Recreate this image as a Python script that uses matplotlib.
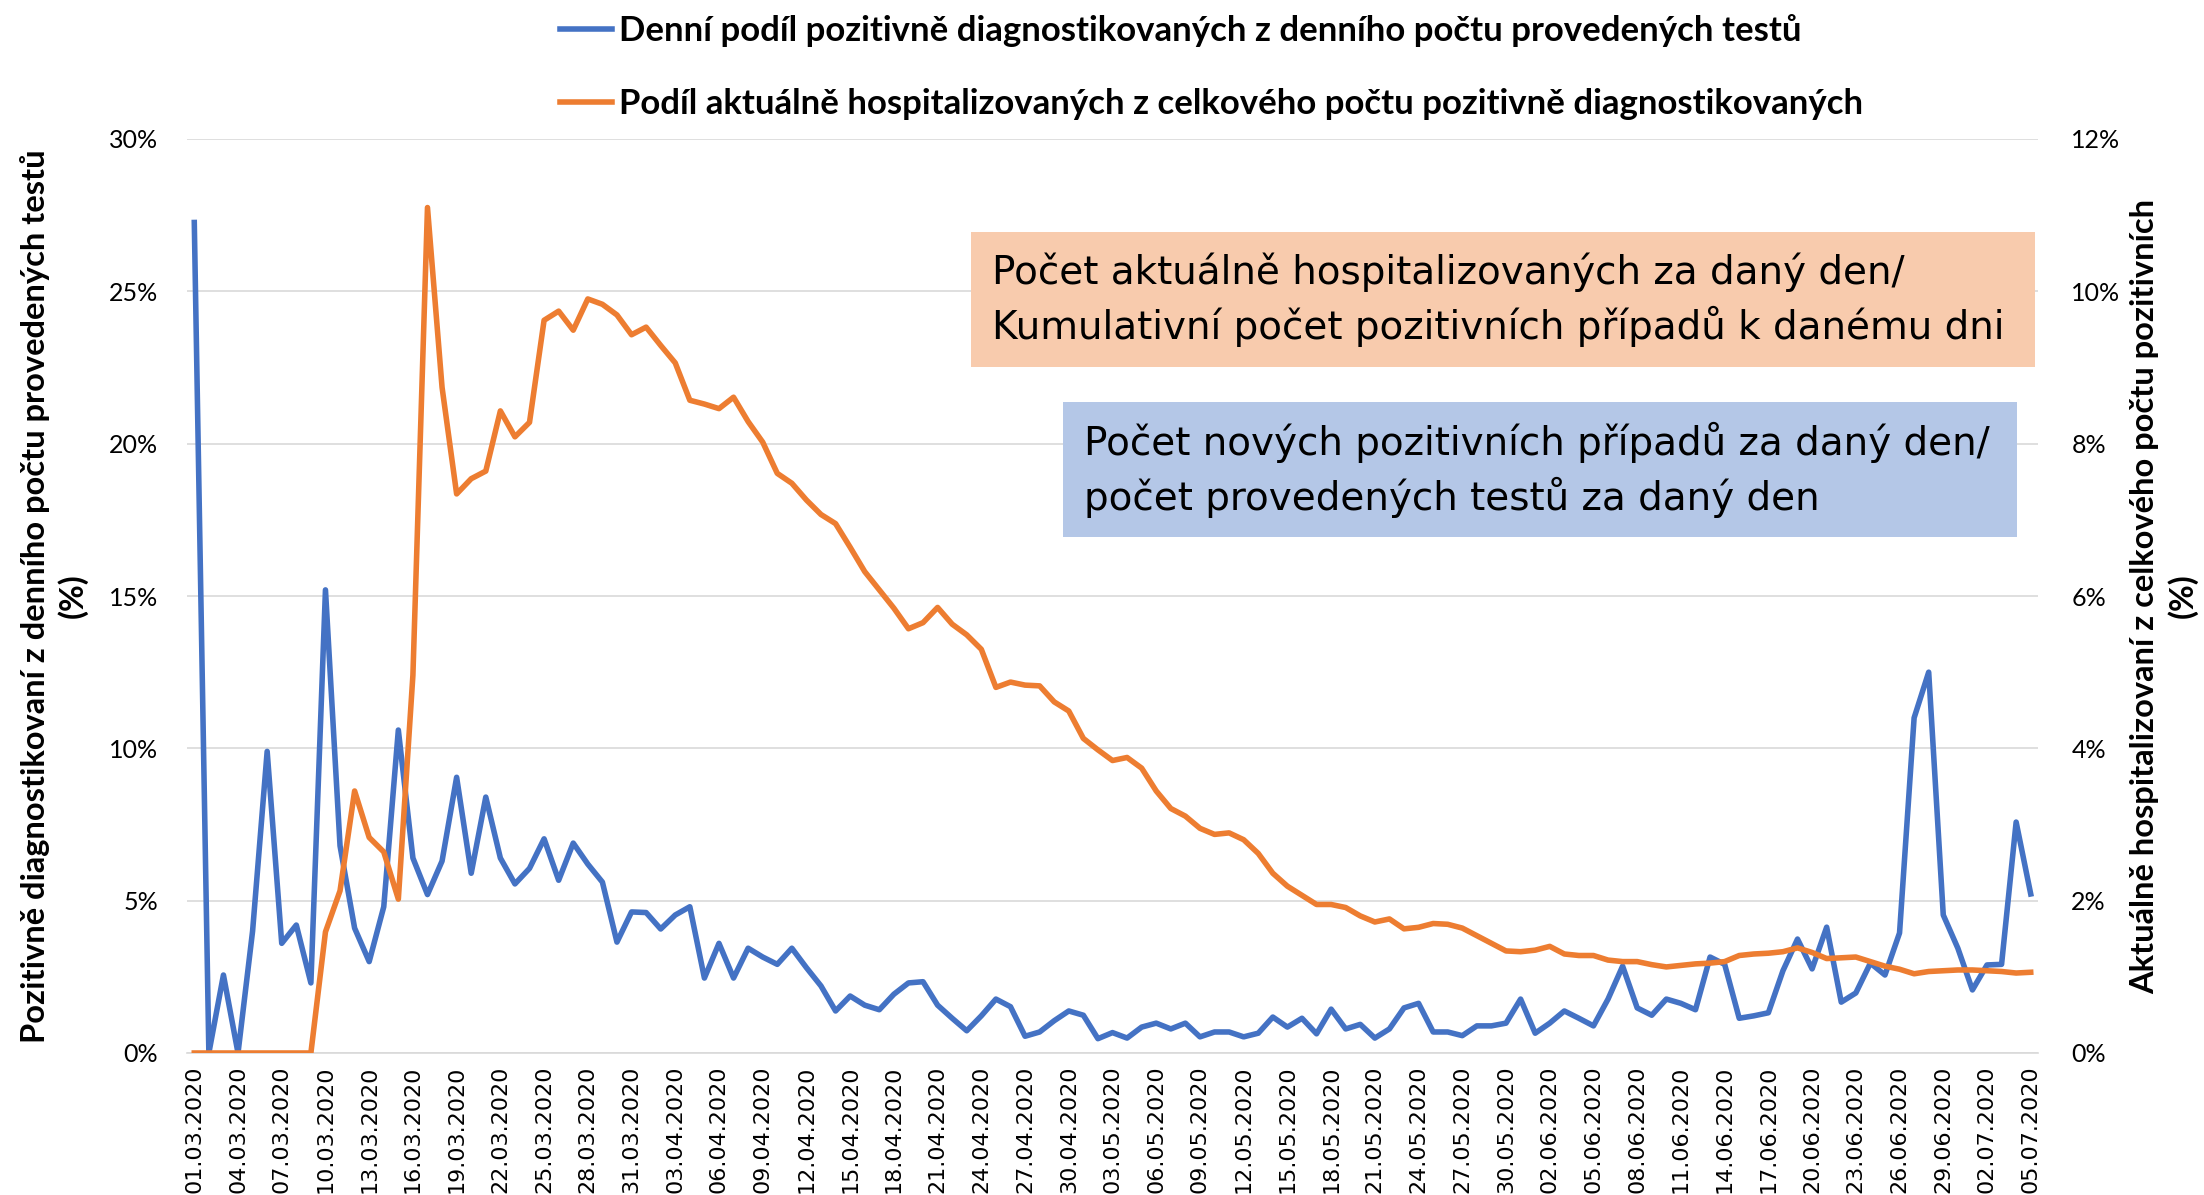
import matplotlib.pyplot as plt
import matplotlib.patches as mpatches
import numpy as np
import pandas as pd

dates = pd.date_range("2020-03-01", "2020-07-05", freq="D")
date_labels = [d.strftime("%d.%m.%Y") for d in dates]

# denni podil pozitivnich z poctu testu (%), leva osa
positive_share = [
    27.26, 0.0, 2.56, 0.0, 4.0, 9.9, 3.6, 4.2, 2.3, 15.2,
    6.8, 4.1, 3.0, 4.8, 10.6, 6.4, 5.2, 6.3, 9.05, 5.9,
    8.4, 6.4, 5.55, 6.06, 7.03, 5.67, 6.89, 6.2, 5.61, 3.64,
    4.63, 4.61, 4.07, 4.53, 4.80, 2.46, 3.6, 2.46, 3.44, 3.15,
    2.91, 3.44, 2.8, 2.2, 1.38, 1.87, 1.57, 1.42, 1.93, 2.30,
    2.34, 1.57, 1.14, 0.73, 1.22, 1.77, 1.52, 0.55, 0.69, 1.06,
    1.38, 1.24, 0.47, 0.67, 0.49, 0.85, 0.98, 0.79, 0.98, 0.53,
    0.69, 0.69, 0.53, 0.65, 1.18, 0.85, 1.14, 0.63, 1.44, 0.79,
    0.94, 0.49, 0.79, 1.48, 1.63, 0.69, 0.69, 0.57, 0.89, 0.89,
    0.98, 1.77, 0.65, 0.98, 1.38, 1.14, 0.89, 1.77, 2.85, 1.48,
    1.24, 1.77, 1.63, 1.42, 3.15, 2.91, 1.14, 1.22, 1.32, 2.7,
    3.74, 2.76, 4.13, 1.67, 1.97, 2.95, 2.56, 3.94, 11.0, 12.5,
    4.53, 3.44, 2.07, 2.89, 2.91, 7.58, 5.22,
]

# podil hospitalizovanych z kumulativniho poctu pozitivnich (%), prava osa
hospital_share = [
    0.0, 0.0, 0.0, 0.0, 0.0, 0.0, 0.0, 0.0, 0.0, 1.59,
    2.13, 3.44, 2.83, 2.64, 2.02, 4.96, 11.1, 8.74, 7.34, 7.54,
    7.64, 8.43, 8.09, 8.28, 9.62, 9.74, 9.49, 9.90, 9.83, 9.69,
    9.43, 9.53, 9.29, 9.06, 8.57, 8.52, 8.46, 8.61, 8.29, 8.02,
    7.61, 7.48, 7.26, 7.07, 6.95, 6.64, 6.32, 6.08, 5.84, 5.57,
    5.65, 5.85, 5.63, 5.49, 5.30, 4.80, 4.87, 4.83, 4.82, 4.61,
    4.49, 4.13, 3.98, 3.84, 3.88, 3.74, 3.44, 3.21, 3.11, 2.95,
    2.87, 2.89, 2.80, 2.62, 2.36, 2.19, 2.07, 1.95, 1.95, 1.91,
    1.80, 1.72, 1.76, 1.63, 1.65, 1.70, 1.69, 1.64, 1.54, 1.44,
    1.34, 1.33, 1.35, 1.40, 1.30, 1.28, 1.28, 1.22, 1.20, 1.20,
    1.16, 1.13, 1.15, 1.17, 1.18, 1.20, 1.28, 1.30, 1.31, 1.33,
    1.38, 1.32, 1.24, 1.25, 1.26, 1.20, 1.14, 1.10, 1.04, 1.07,
    1.08, 1.09, 1.09, 1.08, 1.07, 1.05, 1.06,
]

label_blue = "Denní podíl pozitivně diagnostikovaných z denního počtu provedených testů"
label_orange = "Podíl aktuálně hospitalizovaných z celkového počtu pozitivně diagnostikovaných"
ylabel_left = "Pozitivně diagnostikovaní z denního počtu provedených testů\n(%)"
ylabel_right = "Aktuálně hospitalizovaní z celkového počtu pozitivních\n(%)"
note_orange = "Počet aktuálně hospitalizovaných za daný den/\nKumulativní počet pozitivních případů k danému dni"
note_blue = "Počet nových pozitivních případů za daný den/\npočet provedených testů za daný den"

W, H = 2204, 1195
fig = plt.figure(figsize=(W / 100, H / 100), dpi=100)
ax = fig.add_axes([187 / W, 1 - 1053 / H, (2038 - 187) / W, (1053 - 139) / H])
ax2 = ax.twinx()

x = np.arange(len(dates))
l1, = ax.plot(x, positive_share, color="#4472C4", lw=4, solid_joinstyle="round")
l2, = ax2.plot(x, hospital_share, color="#ED7D31", lw=4, solid_joinstyle="round")

ax.set_xlim(-0.5, len(dates) - 0.5)
ax.set_ylim(0, 30)
ax2.set_ylim(0, 12)
ax.set_yticks(np.arange(0, 31, 5))
ax2.set_yticks(np.arange(0, 13, 2))
ax.set_yticklabels([f"{v}%" for v in range(0, 31, 5)], family="Lato", fontsize=18)
ax2.set_yticklabels([f"{v}%" for v in range(0, 13, 2)], family="Lato", fontsize=18)
ax.set_xticks(x[::3])
ax.set_xticklabels(date_labels[::3], rotation=90, family="DejaVu Sans", fontsize=16)

ax.grid(axis="y", color="#d9d9d9", lw=1.2)
ax.set_axisbelow(True)
for a in (ax, ax2):
    for s in a.spines.values():
        s.set_visible(False)
ax.spines["bottom"].set_visible(True)
ax.spines["bottom"].set_color("#d9d9d9")
ax.spines["bottom"].set_linewidth(1.2)
ax.tick_params(axis="both", length=0)
ax.tick_params(axis="y", pad=21)
ax.tick_params(axis="x", pad=9)
ax2.tick_params(axis="y", length=0, pad=24)

# popisky os
fig.text(54 / W, 1 - 596 / H, ylabel_left, rotation=90, ha="center", va="center",
         multialignment="center", family="Lato", fontweight="bold", fontsize=23.5,
         linespacing=1.3)
fig.text(2164 / W, 1 - 596 / H, ylabel_right, rotation=90, ha="center", va="center",
         multialignment="center", family="Lato", fontweight="bold", fontsize=23.5,
         linespacing=1.3)

fig.legend([l1, l2], [label_blue, label_orange], loc="upper left",
           bbox_to_anchor=(560 / W, 1 - 14 / H), frameon=False,
           prop={"family": "Lato", "weight": "bold", "size": 25},
           handlelength=1.5, handletextpad=0.2, labelspacing=1.18,
           borderpad=0, borderaxespad=0)

# popisne ramecky
boxes = [
    (971, 232, 2035, 367, "#F8CBAD", 992, note_orange),
    (1063, 402, 2017, 537, "#B4C7E7", 1084, note_blue),
]
for x0, y0, x1, y1, col, tx, txt in boxes:
    fig.patches.append(mpatches.Rectangle((x0 / W, 1 - y1 / H), (x1 - x0) / W, (y1 - y0) / H,
                                          transform=fig.transFigure, facecolor=col,
                                          edgecolor="none", zorder=5))
    fig.text(tx / W, 1 - (y0 + y1) / 2 / H, txt, family="DejaVu Sans", fontsize=28,
             va="center", ha="left", linespacing=1.42, zorder=6)

fig.savefig("out.png", dpi=100, facecolor="white")
